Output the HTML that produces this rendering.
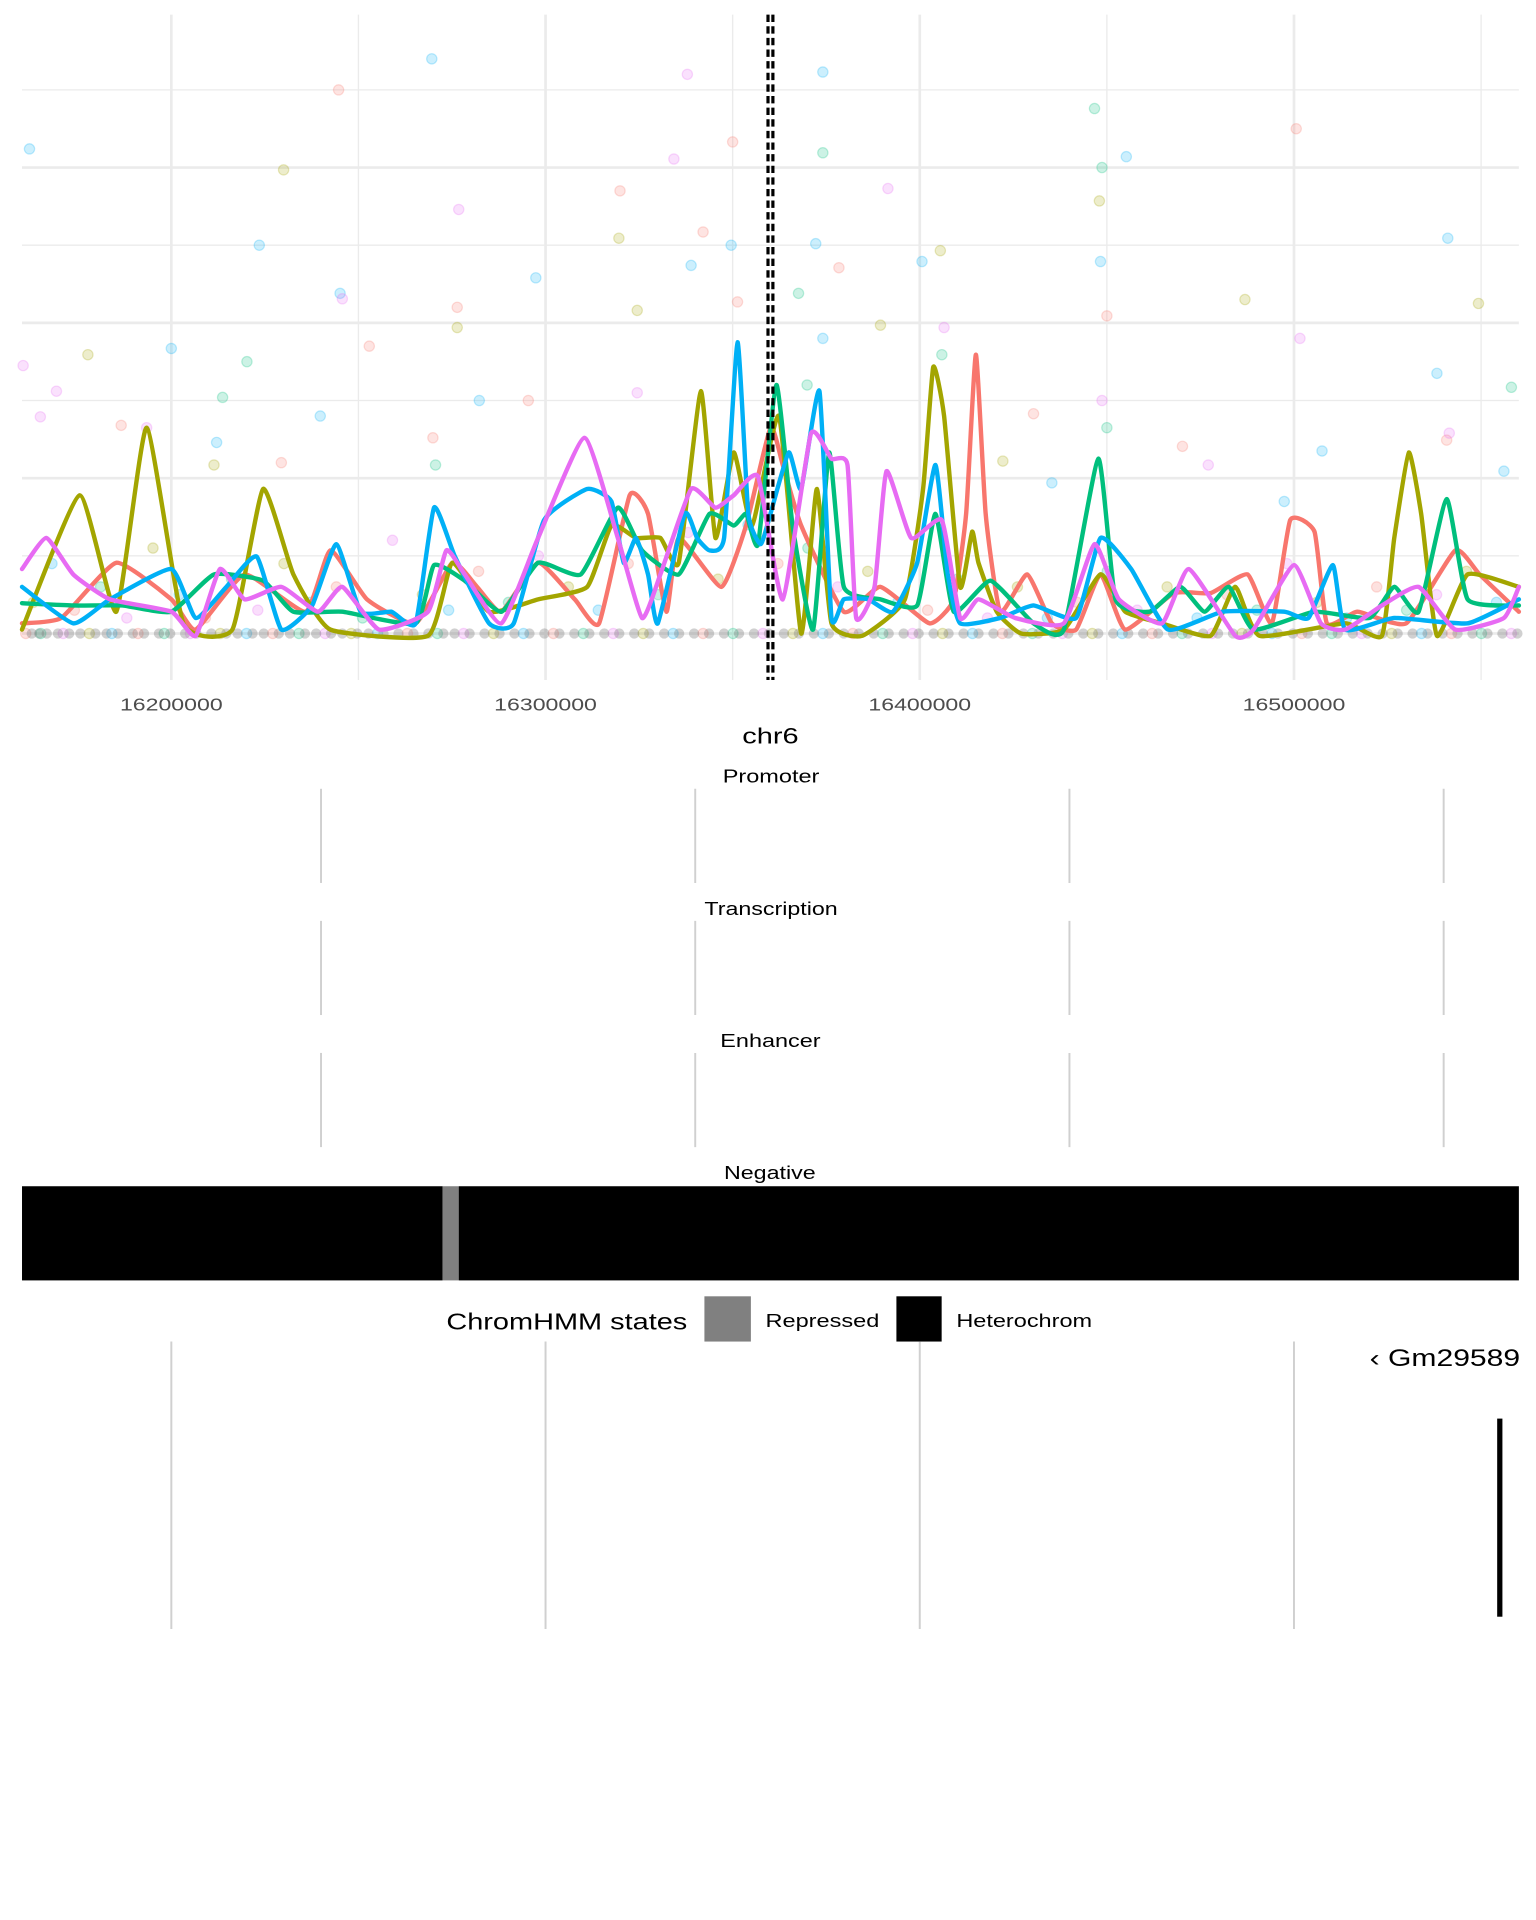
<!DOCTYPE html>
<html><head><meta charset="utf-8">
<style>
html,body{margin:0;padding:0;background:#fff;}
svg{display:block;font-family:"Liberation Sans",Arial,sans-serif;}
</style></head>
<body>
<svg id="chart" width="1536" height="1920" viewBox="0 0 1256 1570" xmlns="http://www.w3.org/2000/svg">
  <g id="grid"></g>
  <g id="points"></g>
  <g id="lines"></g>
  <line x1="628" y1="12" x2="628" y2="556" stroke="#000" stroke-width="2.6" stroke-dasharray="6,3.5"/>
  <line x1="632" y1="12" x2="632" y2="556" stroke="#000" stroke-width="2.6" stroke-dasharray="6,3.5"/>
  <g id="xticks"></g>
  <text x="607" y="608" font-size="18" textLength="46" lengthAdjust="spacingAndGlyphs" fill="#000">chr6</text>

  <text x="591" y="640" font-size="15" textLength="79" lengthAdjust="spacingAndGlyphs">Promoter</text>
  <g id="trk1"></g>
  <text x="576" y="748" font-size="15" textLength="109" lengthAdjust="spacingAndGlyphs">Transcription</text>
  <g id="trk2"></g>
  <text x="589" y="856" font-size="15" textLength="82" lengthAdjust="spacingAndGlyphs">Enhancer</text>
  <g id="trk3"></g>
  <text x="592" y="964" font-size="15" textLength="75" lengthAdjust="spacingAndGlyphs">Negative</text>
  <g id="neg"></g>

  <g>
    <text x="365" y="1087" font-size="19" textLength="197" lengthAdjust="spacingAndGlyphs">ChromHMM states</text>
    <rect x="576" y="1060" width="38" height="37" fill="#808080"/>
    <text x="626" y="1085" font-size="15" textLength="93" lengthAdjust="spacingAndGlyphs">Repressed</text>
    <rect x="733" y="1060" width="37" height="37" fill="#000"/>
    <text x="782" y="1085" font-size="15" textLength="111" lengthAdjust="spacingAndGlyphs">Heterochrom</text>
  </g>
  <g id="gene"></g>
  <text x="1120" y="1117" font-size="20" textLength="123" lengthAdjust="spacingAndGlyphs">‹ Gm29589</text>
</svg>
<script>
// ---- data (x positions in kb offset from region start 16160.1 kb; y values in signal units) ----
const regionStartKb = 16160.1;
const regionEndKb = 16560.1;
const xTickLabels = ["16200000","16300000","16400000","16500000"];
const xTickKb = [16200, 16300, 16400, 16500];
const yMajor = [0, 2, 4, 6];
const yMinor = [1, 3, 5, 7];
const seriesColors = ["#F8766D","#A3A500","#00BF7D","#00B0F6","#E76BF3"];
const seriesNames = ["red","olive","green","blue","magenta"];

const redPos = [0,10.5,25.2,39.9,46.4,59.5,75.8,82.4,92.2,105.2,115,121.6,128.1,137.9,147.7,154.2,162.4,167.3,172.2,175.5,186.9,193.5,200,203.3,208.2,219.6,229.4,242.5,249,252.3,254.9,257.5,261.4,268.6,275.2,281.7,288.2,294.8,307.8,317.6,327.5,334,338.9,345.4,348.7,356.9,369.9,383,389.5,400];
const redVal = [0.13,0.2,0.91,0.44,0.05,0.76,0.28,1.07,0.44,0.13,0.91,0.6,0.28,0.91,0.44,0.13,1.78,1.54,0.28,1.23,0.6,1.39,2.65,2.17,1.39,0.28,0.6,0.13,0.44,1.54,3.59,1.54,0.28,0.76,0.13,0.05,0.76,0.05,0.52,0.52,0.76,0.13,1.46,1.31,0.13,0.28,0.13,1.07,0.76,0.28];

const olivePos = [0,15.4,25.2,33.3,43.1,56.2,64.4,72.5,82.4,108.5,115,124.8,137.9,151,157.5,164.1,170.6,175.5,181.4,185.3,190.2,195.1,202.3,208.2,212.4,216.3,224.5,235.9,240.8,243.5,246.4,250.7,253.9,255.6,260.5,267,278.4,288.2,294.8,304.6,317.6,324.2,330.7,353.6,363.4,366.7,370.6,373.9,378.1,386.3,400];
const oliveVal = [0.05,1.78,0.28,2.65,0.13,0.05,1.86,0.76,0.05,-0.03,0.91,0.28,0.44,0.6,1.39,1.23,1.23,0.91,3.12,1.23,2.33,1.39,2.8,0.0,1.86,0.13,-0.03,0.44,1.86,3.43,2.8,0.6,1.31,0.91,0.28,0.0,0.05,0.76,0.28,0.13,-0.03,0.6,-0.03,0.13,-0.03,1.23,2.33,1.54,-0.03,0.76,0.6];

const greenPos = [0,13.7,26.8,39.9,51.3,64.4,72.5,85.6,105.2,110.1,118.3,128.1,137.9,149.3,159.2,165.7,175.5,183.7,190.2,193.5,196.7,201.6,205.9,211.4,215.7,219.6,229.4,239.2,244.1,249,258.8,270.3,278.4,287.6,292.2,301.3,309.5,316,322.5,329.1,345.4,360.1,366.7,373.2,380.7,386.3,400];
const greenVal = [0.39,0.36,0.36,0.28,0.76,0.68,0.28,0.28,0.13,0.88,0.68,0.28,0.91,0.76,1.62,1.07,0.76,1.54,1.39,1.54,1.15,3.2,1.39,0.05,2.33,0.6,0.44,0.36,1.54,0.28,0.68,0.13,0.05,2.25,0.44,0.28,0.6,0.28,0.6,0.05,0.28,0.2,0.6,0.28,1.73,0.44,0.36];

const bluePos = [0,13.7,23.5,39.9,46.4,54.6,62.7,69.3,77.5,84,90.5,98.7,105.2,110.1,115.7,124.8,131.4,139.5,151,157.5,160.8,164.1,167.3,169.9,177.1,180.4,183.7,187.6,191.2,194.1,197.4,200,204.9,208.2,213.1,216.3,219.6,226.1,232.7,239.2,244.1,247.4,250.7,261.4,270.3,281.7,288.2,296.4,306.2,320.9,337.3,343.8,350.3,353.6,366.7,386.3,400];
const blueVal = [0.6,0.13,0.44,0.83,0.2,0.6,0.99,0.05,0.36,1.15,0.28,0.28,0.13,1.62,0.99,0.13,0.13,1.46,1.86,1.7,0.91,1.23,0.76,0.13,1.54,1.23,1.07,1.23,3.75,1.54,1.15,1.54,2.33,1.86,3.12,0.2,0.44,0.44,0.28,0.91,2.17,0.76,0.13,0.2,0.36,0.2,1.23,0.83,0.05,0.28,0.28,0.2,0.88,0.05,0.2,0.13,0.44];

const magPos = [0,6.5,13.7,23.5,39.9,46.4,52.9,59.5,69.3,79.1,85.6,95.4,108.5,113.4,118.3,128.1,137.9,150.3,159.2,165.7,170.6,178.8,185.3,190.2,196.7,203.3,210.8,216.3,220.6,222.9,227.8,231,237.6,245.8,250.7,255.6,265.4,278.4,286.6,293.1,304.6,311.8,324.2,329.1,339.9,347.1,353.6,363.4,373.2,383,396,400];
const magVal = [0.83,1.23,0.76,0.44,0.28,-0.03,0.83,0.44,0.6,0.28,0.6,0.05,0.28,1.07,0.76,0.13,1.23,2.52,1.23,0.2,0.76,1.86,1.62,1.78,2.02,0.44,2.57,2.25,2.17,0.2,0.6,2.09,1.23,1.46,0.2,0.44,0.2,0.13,1.15,0.44,0.13,0.83,-0.03,0.05,0.88,0.13,0.05,0.36,0.6,0.05,0.2,0.6];

const seriesPos = [redPos, olivePos, greenPos, bluePos, magPos];
const seriesVal = [redVal, oliveVal, greenVal, blueVal, magVal];

// scatter points: offset kb, value, series index
const ptPos = [2,109.5,214,63.4,39.9,137.3,212.1,295.1,288.2,240.5,381,378.1,52,178.8,189.5,79.7,85,122.2,214,275.2,347.4,396,337.3,
 84.6,189.9,340.5,159.8,182,191.2,92.8,116.3,218.3,289.9,270.3,135.3,109.8,310.1,380.7,26.5,69.3,
 69.9,287.9,245.4,389.2,326.8,17.6,164.4,229.4,116.3,159.5,262.1,51.3,
 286.6,214,288.6,207.5,245.8,60.1,53.6,209.8,398,289.9,110.5,
 177.8,174.2,231.4,116.7,85.6,0.3,9.2,341.5,246.4,288.6,33.3,164.4,381.4,317,4.9];
const ptVal = [6.24,7.4,7.23,5.0,3.67,4.58,5.02,6.14,4.79,4.79,5.09,3.35,2.46,4.74,5.0,2.8,4.38,3.0,3.8,1.94,2.35,2.09,1.7,
 7.0,6.33,6.5,5.7,5.17,4.27,3.7,4.2,4.71,4.09,2.83,3.0,2.52,2.41,2.49,2.68,2.2,
 5.97,5.57,4.93,4.25,4.3,3.59,4.16,3.97,3.94,5.09,2.22,2.17,
 6.76,6.19,6.0,4.38,3.59,3.5,3.04,3.2,3.17,2.65,2.17,
 7.2,6.11,5.73,5.46,4.31,3.45,3.12,3.8,3.94,3.0,2.65,3.1,2.58,2.17,2.79];
const ptSeries = [3,3,3,3,3,3,3,3,3,3,3,3,3,3,3,3,3,3,3,3,3,3,3,
 0,0,0,0,0,0,0,0,0,0,0,0,0,0,0,0,0,
 1,1,1,1,1,1,1,1,1,1,1,1,
 2,2,2,2,2,2,2,2,2,2,2,
 4,4,4,4,4,4,4,4,4,4,4,4,4,4,4];
// low-signal points near baseline
const lowPos = [1,3,5,8,11,14,18,21,24,28,31,35,38,42,45,49,53,56,60,63,67,70,74,77,81,84,88,91,95,99,103,107,111,114,118,122,126,130,134,138,142,146,150,154,158,162,166,170,174,178,182,186,190,194,198,202,206,210,214,218,222,226,230,234,238,242,246,250,254,258,262,266,270,274,278,282,286,290,294,298,302,306,310,314,318,322,326,330,334,338,342,346,350,354,358,362,366,370,374,378,382,386,390,394,398];
const lowVal = [0,0.4,0,0.9,0,0.3,0,0.6,0,0.2,0,1.1,0,0.5,0,0.2,0,0.7,0,0.3,0,0.9,0,0.4,0,0.6,0,0.2,0,1.2,0,0.5,0,0.3,0,0.8,0,0.4,0,1.0,0,0.6,0,0.3,0,0.9,0,0.5,0,1.3,0,0.7,0,1.4,0,0.9,0,1.1,0,0.6,0,0.8,0,0.4,0,0.3,0,0.7,0,0.2,0,0.6,0,0.2,0,0.4,0,0.8,0,0.3,0,0.6,0,0.2,0,0.5,0,0.3,0,0.9,0,0.4,0,0.2,0,0.6,0,0.3,0,0.5,0,0.8,0,0.4,0];
const lowSeries = [0,1,2,3,4,0,1,2,3,4,0,1,2,3,4,0,1,2,3,4,0,1,2,3,4,0,1,2,3,4,0,1,2,3,4,0,1,2,3,4,0,1,2,3,4,0,1,2,3,4,0,1,2,3,4,0,1,2,3,4,0,1,2,3,4,0,1,2,3,4,0,1,2,3,4,0,1,2,3,4,0,1,2,3,4,0,1,2,3,4,0,1,2,3,4,0,1,2,3,4,0,1,2,3,4];

// ChromHMM negative track segments (kb offsets)
const hmmStart = [0, 112.4, 116.7];
const hmmEnd = [112.4, 116.7, 400];
const hmmState = ["Heterochrom","Repressed","Heterochrom"];
const geneStartKb = 394.2;
const geneEndKb = 395.6;

// ---- scales ----
const X0 = 18, X1 = 1242, BASE = 518, UNIT = 63.5;
function xs(off){ return X0 + off/(regionEndKb-regionStartKb)*(X1-X0); }
function xsKb(kb){ return xs(kb-regionStartKb); }
function ys(v){ return BASE - v*UNIT; }
const NS = "http://www.w3.org/2000/svg";
function mk(tag, attrs, parent){ const e=document.createElementNS(NS,tag); for(const k in attrs) e.setAttribute(k,attrs[k]); parent.appendChild(e); return e; }

// grid
const grid = document.getElementById('grid');
yMinor.forEach(v=>{ const l=mk('line',{x1:X0,x2:X1,y1:ys(v),y2:ys(v),stroke:'#ebebeb','stroke-width':1.1},grid);

 });
yMajor.forEach(v=>{ const l=mk('line',{x1:X0,x2:X1,y1:ys(v),y2:ys(v),stroke:'#ebebeb','stroke-width':2.2},grid);

 });
xTickKb.forEach((kb,i)=>{
  const x=xsKb(kb);
  const l=mk('line',{x1:x,x2:x,y1:12,y2:556,stroke:'#ebebeb','stroke-width':2.2},grid);
  
  
  const xm=xsKb(kb+50);
  const m=mk('line',{x1:xm,x2:xm,y1:12,y2:556,stroke:'#ebebeb','stroke-width':1.1},grid);
  
  
  const t=mk('text',{x:x-42,y:581,'font-size':14.5,textLength:84,lengthAdjust:'spacingAndGlyphs',fill:'#4d4d4d'},document.getElementById('xticks'));
  t.textContent=xTickLabels[i];
  
  
});

// points
const pg = document.getElementById('points');
lowPos.forEach((p,i)=>{ const c=mk('circle',{cx:xs(p),cy:ys(lowVal[i]),r:4.2,fill:seriesColors[lowSeries[i]],'fill-opacity':0.22,stroke:seriesColors[lowSeries[i]],'stroke-opacity':0.25},pg);

 });
lowPos.forEach((p,i)=>{ const c=mk('circle',{cx:xs(p+1.6),cy:ys(0),r:4.2,fill:'#777','fill-opacity':0.35},pg);

 });
ptPos.forEach((p,i)=>{ const c=mk('circle',{cx:xs(p),cy:ys(ptVal[i]),r:4.2,fill:seriesColors[ptSeries[i]],'fill-opacity':0.2,stroke:seriesColors[ptSeries[i]],'stroke-opacity':0.25},pg);

 });

// lines (light smoothing, low tension to avoid overshoot)
function pathFor(px, py){
  let d='M'+px[0].toFixed(1)+','+py[0].toFixed(1);
  const t=0.08;
  for(let i=0;i<px.length-1;i++){
    const p0x=px[Math.max(0,i-1)],p0y=py[Math.max(0,i-1)];
    const p1x=px[i],p1y=py[i],p2x=px[i+1],p2y=py[i+1];
    const p3x=px[Math.min(px.length-1,i+2)],p3y=py[Math.min(px.length-1,i+2)];
    const c1x=p1x+(p2x-p0x)*t,c1y=p1y+(p2y-p0y)*t;
    const c2x=p2x-(p3x-p1x)*t,c2y=p2y-(p3y-p1y)*t;
    d+=' C'+c1x.toFixed(1)+','+c1y.toFixed(1)+' '+c2x.toFixed(1)+','+c2y.toFixed(1)+' '+p2x.toFixed(1)+','+p2y.toFixed(1);
  }
  return d;
}
const lg = document.getElementById('lines');
seriesPos.forEach((pos,s)=>{
  const px=pos.map(xs), py=seriesVal[s].map(ys);
  const p=mk('path',{d:pathFor(px,py),fill:'none',stroke:seriesColors[s],'stroke-width':3.6,'stroke-linejoin':'round','stroke-linecap':'round'},lg);
  
  
});

// annotation tracks gridlines
[['trk1',645,722],['trk2',753,830],['trk3',861,938]].forEach(([id,y1,y2])=>{
  const g=document.getElementById(id);
  xTickKb.forEach(kb=>{ const x=xsKb(kb+40); const l=mk('line',{x1:x,x2:x,y1:y1,y2:y2,stroke:'#d0d0d0','stroke-width':1.6},g);
  
   });
});
const neg=document.getElementById('neg');
hmmStart.forEach((s,i)=>{ const r=mk('rect',{x:xs(s),y:970,width:xs(hmmEnd[i])-xs(s),height:77,fill:hmmState[i]==='Repressed'?'#808080':'#000'},neg);

 });

// gene track
const gg=document.getElementById('gene');
xTickKb.forEach(kb=>{ const x=xsKb(kb); const l=mk('line',{x1:x,x2:x,y1:1097,y2:1332,stroke:'#d0d0d0','stroke-width':1.6},gg);

 });
const gb=mk('rect',{x:xs(geneStartKb),y:1160,width:Math.max(4,xs(geneEndKb)-xs(geneStartKb)),height:162,fill:'#000'},gg);


</script>
</body></html>
